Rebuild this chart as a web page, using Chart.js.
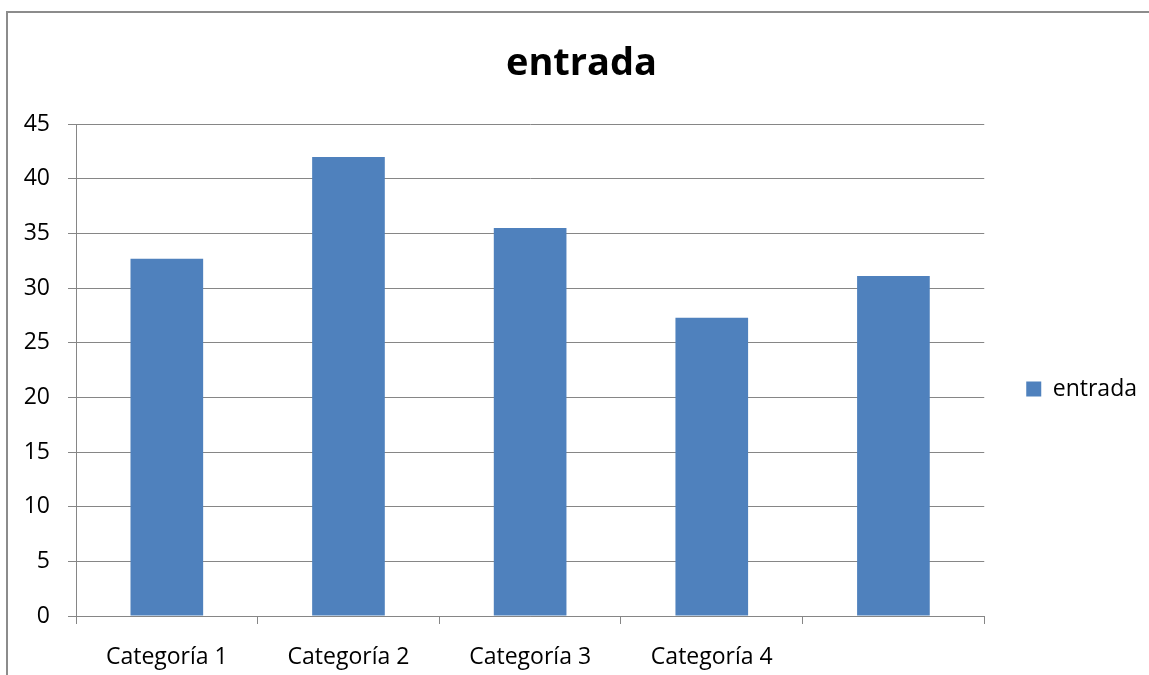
<!DOCTYPE html>
<html><head><meta charset="utf-8">
<script src="https://cdn.jsdelivr.net/npm/chart.js"></script>
<style>
html,body{margin:0;padding:0;background:#fff;width:1149px;height:675px;overflow:hidden;}
#frame{position:absolute;left:6px;top:11px;width:1143px;height:664px;border-top:2px solid #8c8c8c;border-left:2px solid #8c8c8c;box-sizing:border-box;}
#wrap{position:absolute;left:16px;top:0;width:1133px;height:675px;}
</style></head><body>
<div id="frame"></div>
<div id="wrap"><canvas id="c"></canvas></div>
<script>
const categories = ['Categoría 1', 'Categoría 2', 'Categoría 3', 'Categoría 4', ''];
const seriesName = 'entrada';
const values = [32.7, 42, 35.5, 27.3, 31.1];
const yMin = 0, yMax = 45, yStep = 5;

const gridColor = '#868686';
const fontFamily = '"Open Sans", sans-serif';

new Chart(document.getElementById('c'), {
  type: 'bar',
  data: {
    labels: categories,
    datasets: [{
      label: seriesName,
      data: values,
      backgroundColor: '#4f81bd',
      borderWidth: 0,
      barPercentage: 0.40,
      categoryPercentage: 1.0
    }]
  },
  options: {
    responsive: true,
    maintainAspectRatio: false,
    animation: false,
    layout: { padding: { left: 0, right: 2, top: 0, bottom: 0 } },
    plugins: {
      title: {
        display: true,
        text: seriesName,
        color: '#000',
        font: { family: fontFamily, size: 38, weight: 'bold', lineHeight: 1.2 },
        padding: { top: 41, bottom: 37.6 }
      },
      legend: {
        display: true,
        position: 'right',
        fullSize: false,
        align: 'center',
        title: { display: true, text: '', font: { size: 10, lineHeight: 1 }, padding: { top: 28, bottom: 0 } },
        labels: {
          boxWidth: 15, boxHeight: 15, padding: 42, color: '#000',
          font: { family: fontFamily, size: 23 }
        }
      },
      tooltip: { enabled: false }
    },
    scales: {
      x: {
        grid: { display: true, drawOnChartArea: false, offset: true, tickLength: 8, color: gridColor },
        border: { color: gridColor },
        ticks: { color: '#000', font: { family: fontFamily, size: 23 }, padding: 20, maxRotation: 0, autoSkip: false },
        afterFit: (s) => { s.height = 59; }
      },
      y: {
        min: yMin, max: yMax,
        grid: { color: gridColor, tickLength: 8 },
        border: { color: gridColor },
        ticks: { stepSize: yStep, color: '#000', font: { family: fontFamily, size: 23 }, padding: 18 },
        afterFit: (s) => { s.width = 60; }
      }
    }
  }
});
</script>
</body></html>
